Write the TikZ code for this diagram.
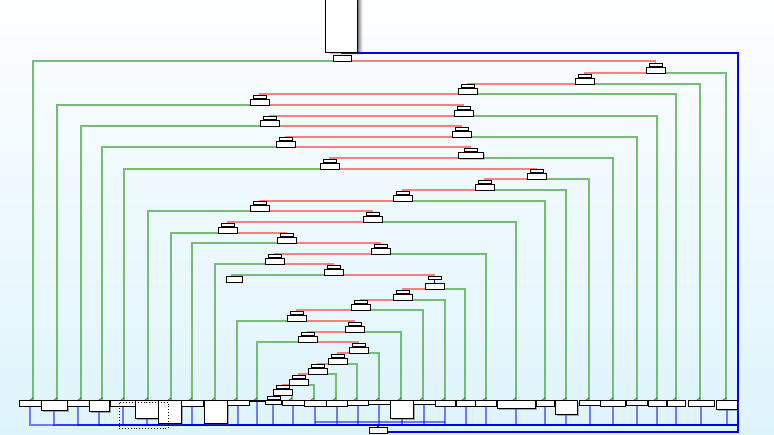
\documentclass[tikz,border=0pt]{standalone}
\usetikzlibrary{shadows}
\definecolor{gline}{RGB}{120,188,120}
\definecolor{rline}{RGB}{248,128,128}
\definecolor{hookc}{RGB}{45,140,45}
\definecolor{bgtop}{RGB}{253,254,255}
\definecolor{bgbot}{RGB}{222,244,252}
\pgfdeclarelayer{back}
\pgfdeclarelayer{lines}
\pgfsetlayers{back,lines,main}
\begin{document}
\begin{tikzpicture}[x=1pt,y=-1pt,
  box/.style={draw=black,fill=white,line width=0.9pt,inner sep=0pt,outer sep=0pt},
  bb/.style={box},
  bbs/.style={box,drop shadow={shadow xshift=2pt,shadow yshift=-2pt,opacity=0.45,fill=black!70}},
  glink/.style={draw=gline,line width=1.7pt},
  rlink/.style={draw=rline,line width=1.7pt},
  bus/.style={draw=blue,opacity=0.5,line width=2pt},
  outerline/.style={draw=blue,line width=2pt},
  hook/.style={draw=hookc,line width=0.9pt},
  stem/.style={draw=blue,line width=0.8pt},
  selbox/.style={draw=black,dotted,line width=0.9pt,inner sep=0pt,minimum width=49pt,minimum height=26pt},
]
\begin{pgfonlayer}{back}
\shade[top color=bgtop,bottom color=bgbot] (0,0) rectangle (774,435);
\end{pgfonlayer}
\useasboundingbox (0,0) rectangle (774,435);

% top (root) element
\node[box,minimum width=32pt,minimum height=58pt] (top) at (341,23) {};
\node[box,minimum width=18pt,minimum height=6pt] (r) at (342,58) {};

% chain nodes: small box t, big box c
\foreach \k/\x/\yb in {1/655.5/73, 2/584.5/84, 3/467.5/94, 4/259.5/105, 5/463.5/116,
  6/269.5/126, 7/461.5/137, 8/285.5/147, 10/329.5/169, 11/536.5/179, 12/484.5/190,
  13/402.5/201, 14/259.5/211, 15/372.5/222, 16/227.5/233, 17/286.5/243, 18/380.5/254,
  19/274.5/264, 20/333.5/275, 22/402.5/300, 23/360.5/310, 24/296.5/321, 25/354.5/332,
  26/307.5/342, 27/358.5/353, 28/337.5/364, 29/317.5/374, 30/298.5/385, 31/282.5/395}{
  \node[box,minimum width=19pt,minimum height=6pt] (c\k) at (\x,\yb-3) {};
  \node[box,minimum width=13pt,minimum height=3pt] (t\k) at (\x,\yb-8) {};
  \draw[stem] (t\k.south) -- (c\k.north);
}
\node[box,minimum width=25pt,minimum height=6pt,
  drop shadow={shadow xshift=2pt,shadow yshift=-2pt,opacity=0.35,fill=black!60}] (c9) at (470.5,155) {};
\node[box,minimum width=13pt,minimum height=3pt] (t9) at (470.5,150) {};
\draw[stem] (t9.south) -- (c9.north);
\node[box,minimum width=19pt,minimum height=6pt] (c21) at (434.5,286) {};
\node[box,minimum width=13pt,minimum height=3pt] (t21) at (434.5,277.5) {};
\draw[stem] (t21.south) -- (c21.north);
\node[box,minimum width=13pt,minimum height=3pt] (t32) at (273.5,397.5) {};

% single box reached by c20
\node[box,minimum width=16pt,minimum height=6pt] (s) at (234,279) {};

% bottom row
\foreach \i/\xl/\xr/\h/\st in {1/19/41/6/bb, 2/41/67/10/bbs, 3/67/89/6/bb, 4/89/109/11/bbs,
  5/110/135/6/bb, 6/135/158/18/bbs, 7/158/181/23/bbs, 8/181/203/6/bb, 9/204/227/23/bbs,
  10/227/249/5/bb, 11/249/265/1.5/bb, 12/265/281/4/bb, 13/282/304/5/bb, 14/304/326/6/bb,
  15/326/347/6/bb, 16/347/368/5/bb, 17/368/390/4/bb, 18/390/413/18/bbs, 19/413/435/4/bb,
  20/435/455/6/bb, 21/456/475/6/bb, 22/475/496/6/bb, 23/497/535/8/bbs, 24/536/554/6/bb,
  25/555/577/14/bbs, 26/579/600/5/bb, 27/600/625/6/bb, 28/626/647/5/bb, 29/648/666/6/bb,
  30/667/685/6/bb, 31/688/714/6/bb, 32/716/737/9/bbs}{
  \node[\st,minimum width={(\xr-\xl)*1pt},minimum height=\h pt] (b\i) at ({(\xl+\xr)/2},{400+\h/2}) {};
}
\draw[stem] (t32.south) -- (b12.north);

% end box of the blue loop
\node[box,minimum width=18pt,minimum height=6pt] (z) at (378,430) {};

% selection frame
\node[selbox] (sel) at (143.5,415) {};

% green attach points on the bottom row
\foreach \i/\g in {1/33,2/57,3/81,4/102,5/124,6/148,7/171,8/192,9/215,10/237,11/257,
  13/292,14/314,15/336,16/357,17/379,18/401,19/423,20/445,21/465,22/486,23/516,24/545,
  25/566,26/589,27/613,28/637,29/657,30/676,31/700,32/726}{
  \coordinate (g\i) at (\g,400);
}
\coordinate (busR) at (737.5,425.5);
\coordinate (q) at (0,422);

\begin{pgfonlayer}{lines}
% soft shadow of the top element
\foreach \d/\o in {1/0.22,2/0.18,3/0.15,4/0.12,5/0.09,6/0.06}{
  \fill[black,opacity=\o] ([xshift=\d pt,yshift=-0.5*\d pt]top.south west) rectangle ([xshift=\d pt]top.north east);
}
% green connectors
\draw[glink] (r.south) -| (g1);
\foreach \k/\i in {4/2,6/3,8/4,10/5,14/6,16/7,17/8,19/9,24/10,26/11,31/13,30/14,29/15,
  28/16,27/17,25/18,23/19,22/20,21/21,18/22,15/23,13/24,12/25,11/26,9/27,7/28,5/29,
  3/30,2/31,1/32}{
  \draw[glink] (c\k.south) -| (g\i);
}
\draw[glink] (c20.south) -| ([xshift=-2pt]s.north);
\foreach \i in {1,2,3,4,5,6,7,8,9,10,11,13,14,15,16,17,18,19,20,21,22,23,24,25,26,27,28,29,30,31,32}{
  \draw[hook] ([yshift=2pt]g\i) -- ([xshift=-3pt]g\i);
}
% red chain
\draw[rlink] (r.south) -| (t1.north);
\foreach \k [evaluate=\k as \j using int(\k-1)] in {2,...,32}{
  \draw[rlink] (c\j.south) -| (t\k.north);
}
% blue bus
\foreach \i in {1,...,32}{
  \draw[bus] (b\i.south) |- (busR);
}
\draw[bus] (b14.south |- q) -- (b20.south |- q);
\draw[draw=blue,line width=1.2pt] (z.north) -- (z.north |- busR);
\draw[outerline] ([yshift=-1pt]top.south) -| ([yshift=-2.5pt]z.east -| busR) -- ([yshift=-2.5pt]z.east);
\end{pgfonlayer}
\end{tikzpicture}
\end{document}
